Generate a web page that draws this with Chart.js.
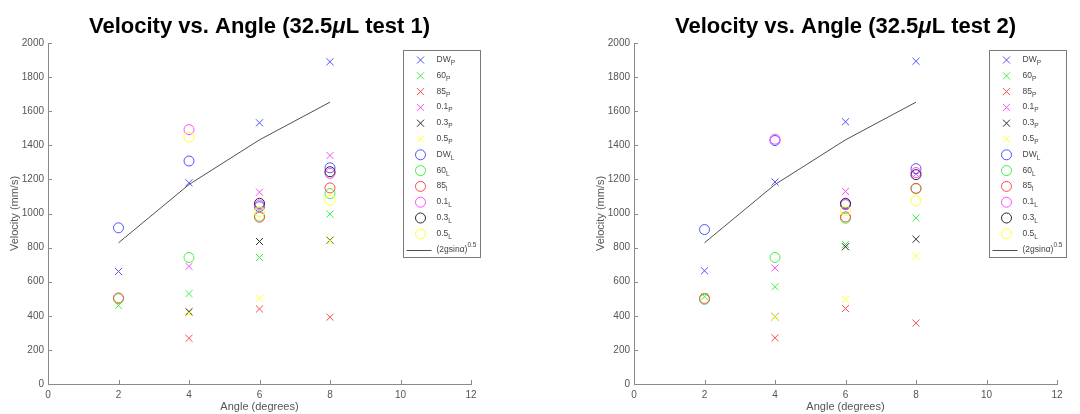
<!DOCTYPE html>
<html>
<head>
<meta charset="utf-8">
<script src="https://cdn.jsdelivr.net/npm/chart.js@4"></script>
<style>
  body { margin: 0; background: #fff; }
  #wrap { position: relative; width: 1080px; height: 414px; }
  canvas { position: absolute; top: 0; }
  #c1 { left: 0; }
  #c2 { left: 540px; }
</style>
</head>
<body>
<div id="wrap">
  <canvas id="c1" width="540" height="414"></canvas>
  <canvas id="c2" width="540" height="414"></canvas>
</div>
<script>
const angles = [2, 4, 6, 8];
const seriesNames = ["DW", "60", "85", "0.1", "0.3", "0.5"];
const seriesColors = ["#5050ff", "#40f040", "#ff4a4a", "#ff4aff", "#2a2a2a", "#ffff30"];
const xTicks = [0, 2, 4, 6, 8, 10, 12];
const yTicks = [0, 200, 400, 600, 800, 1000, 1200, 1400, 1600, 1800, 2000];

// test 1, P series (crosses)
const dwP1  = [660, 1180, 1532, 1890];
const s60P1 = [460, 530, 742, 997];
const s85P1 = [null, 268, 440, 392];
const s01P1 = [null, 690, 1125, 1340];
const s03P1 = [null, 424, 836, 843];
const s05P1 = [null, 415, 502, 840];
// test 1, L series (circles)
const dwL1  = [916, 1308, 1040, 1268];
const s60L1 = [500, 742, 985, 1117];
const s85L1 = [505, null, 978, 1150];
const s01L1 = [null, 1492, 1050, 1235];
const s03L1 = [null, null, 1060, 1245];
const s05L1 = [null, 1448, 1010, 1078];

// test 2, P series
const dwP2  = [664, 1185, 1538, 1893];
const s60P2 = [512, 570, 818, 974];
const s85P2 = [null, 271, 443, 357];
const s01P2 = [null, 681, 1130, 1232];
const s03P2 = [null, 394, 805, 849];
const s05P2 = [null, 392, 496, 750];
// test 2, L series
const dwL2  = [906, 1428, 1052, 1263];
const s60L2 = [496, 742, 972, 1145];
const s85L2 = [502, null, 980, 1148];
const s01L2 = [null, 1436, 1055, 1240];
const s03L2 = [null, null, 1060, 1228];
const s05L2 = [null, null, 1016, 1074];

// (2gsin a)^0.5 curve
const theory = [828, 1170, 1432, 1653];

const FONT = "'Liberation Sans', Arial, sans-serif";
const axisColor = "#8a8a8a";
const textColor = "#555555";

function pointSet(name, sub, color, style, vals) {
  const pts = [];
  vals.forEach((v, k) => { if (v !== null) pts.push({ x: angles[k], y: v }); });
  return {
    label: name, sub: sub, data: pts,
    pointStyle: style,
    pointRadius: 5,
    pointBorderWidth: 1,
    borderColor: color,
    backgroundColor: "rgba(0,0,0,0)",
    showLine: false
  };
}

function makeDatasets(peak, lead) {
  const sets = [];
  peak.forEach((v, i) => sets.push(pointSet(seriesNames[i], "P", seriesColors[i], "crossRot", v)));
  lead.forEach((v, i) => sets.push(pointSet(seriesNames[i], i === 2 ? "l" : "L", seriesColors[i], "circle", v)));
  sets.push({
    label: "(2gsin\u03b1)", sup: "0.5",
    data: angles.map((a, k) => ({ x: a, y: theory[k] })),
    showLine: true, pointRadius: 0, borderColor: "#505050", borderWidth: 1,
    backgroundColor: "rgba(0,0,0,0)"
  });
  // later datasets drawn on top, like the original
  sets.forEach((s, i) => { s.order = sets.length - i; });
  return sets;
}

function drawMarker(ctx, style, color, x, y) {
  ctx.strokeStyle = color;
  ctx.lineWidth = 1;
  ctx.beginPath();
  if (style === "circle") {
    ctx.arc(x, y, 5, 0, Math.PI * 2);
  } else {
    const r = 3.5;
    ctx.moveTo(x - r, y - r); ctx.lineTo(x + r, y + r);
    ctx.moveTo(x - r, y + r); ctx.lineTo(x + r, y - r);
  }
  ctx.stroke();
}

const matlabLook = {
  id: "matlabLook",
  afterDraw(chart, args, opts) {
    const ctx = chart.ctx, area = chart.chartArea;
    const xs = chart.scales.x, ys = chart.scales.y;
    ctx.save();

    // inward ticks
    ctx.strokeStyle = axisColor;
    ctx.lineWidth = 1;
    ctx.beginPath();
    xTicks.forEach(t => {
      const px = Math.round(xs.getPixelForValue(t)) + 0.5;
      ctx.moveTo(px, area.bottom); ctx.lineTo(px, area.bottom - 4);
    });
    yTicks.forEach(t => {
      const py = Math.round(ys.getPixelForValue(t)) + 0.5;
      ctx.moveTo(area.left, py); ctx.lineTo(area.left + 4, py);
    });
    ctx.stroke();

    // title with italic mu
    const parts = [
      ["Velocity vs. Angle (32.5", "bold 22px " + FONT],
      ["\u03bc", "italic bold 22px " + FONT],
      ["L test " + opts.testNo + ")", "bold 22px " + FONT]
    ];
    let total = 0;
    parts.forEach(p => { ctx.font = p[1]; p.push(ctx.measureText(p[0]).width); total += p[2]; });
    let tx = (area.left + area.right) / 2 - total / 2;
    ctx.fillStyle = "#000";
    ctx.textBaseline = "alphabetic";
    ctx.textAlign = "left";
    parts.forEach(p => { ctx.font = p[1]; ctx.fillText(p[0], tx, 33); tx += p[2]; });

    // legend box
    const bx = Math.round(area.right - 68) + 0.5, by = Math.round(area.top + 7) + 0.5;
    const bw = 77, bh = 207, step = 15.8;
    ctx.fillStyle = "#fff";
    ctx.fillRect(bx, by, bw, bh);
    ctx.strokeStyle = "#7a7a7a";
    ctx.strokeRect(bx, by, bw, bh);
    chart.data.datasets.forEach((ds, i) => {
      const ry = by + 9.5 + i * step;
      if (ds.showLine) {
        ctx.strokeStyle = ds.borderColor;
        ctx.beginPath();
        ctx.moveTo(bx + 3, Math.round(ry) + 0.5); ctx.lineTo(bx + 28, Math.round(ry) + 0.5);
        ctx.stroke();
      } else {
        drawMarker(ctx, ds.pointStyle, ds.borderColor, bx + 17, ry);
      }
      const lx = bx + 33;
      ctx.fillStyle = "#444";
      ctx.font = "8.5px " + FONT;
      ctx.fillText(ds.label, lx, ry + 2);
      const w = ctx.measureText(ds.label).width;
      ctx.font = "6.5px " + FONT;
      if (ds.sub) ctx.fillText(ds.sub, lx + w, ry + 5);
      if (ds.sup) ctx.fillText(ds.sup, lx + w, ry - 3);
    });
    ctx.restore();
  }
};

function makeChart(id, testNo, peak, lead, padLeft, padRight) {
  return new Chart(document.getElementById(id), {
    type: "scatter",
    data: { datasets: makeDatasets(peak, lead) },
    options: {
      responsive: false,
      animation: false,
      devicePixelRatio: 1,
      layout: { padding: { left: padLeft, right: padRight, top: 43, bottom: 0 } },
      plugins: {
        legend: { display: false },
        tooltip: { enabled: false },
        matlabLook: { testNo: testNo }
      },
      scales: {
        x: {
          type: "linear", min: 0, max: 12,
          afterBuildTicks: s => { s.ticks = xTicks.map(v => ({ value: v })); },
          afterFit: s => { s.height = 30; },
          ticks: { font: { family: FONT, size: 10 }, color: textColor, padding: 5, maxRotation: 0,
                   callback: v => String(v) },
          grid: { display: true, drawOnChartArea: false, drawTicks: false },
          border: { display: true, color: axisColor, width: 1 },
          title: { display: true, text: "Angle (degrees)", color: textColor,
                   font: { family: FONT, size: 11 }, padding: { top: 0, bottom: 0 } }
        },
        y: {
          type: "linear", min: 0, max: 2000,
          afterBuildTicks: s => { s.ticks = yTicks.map(v => ({ value: v })); },
          afterFit: s => { s.width = 48; },
          ticks: { font: { family: FONT, size: 10 }, color: textColor, padding: 4,
                   callback: v => String(v) },
          grid: { display: true, drawOnChartArea: false, drawTicks: false },
          border: { display: true, color: axisColor, width: 1 },
          title: { display: true, text: "Velocity (mm/s)", color: textColor,
                   font: { family: FONT, size: 11 }, padding: { top: 8, bottom: 0 } }
        }
      }
    },
    plugins: [matlabLook]
  });
}

makeChart("c1", 1,
  [dwP1, s60P1, s85P1, s01P1, s03P1, s05P1],
  [dwL1, s60L1, s85L1, s01L1, s03L1, s05L1], 0, 69);
makeChart("c2", 2,
  [dwP2, s60P2, s85P2, s01P2, s03P2, s05P2],
  [dwL2, s60L2, s85L2, s01L2, s03L2, s05L2], 46, 23);
</script>
</body>
</html>
